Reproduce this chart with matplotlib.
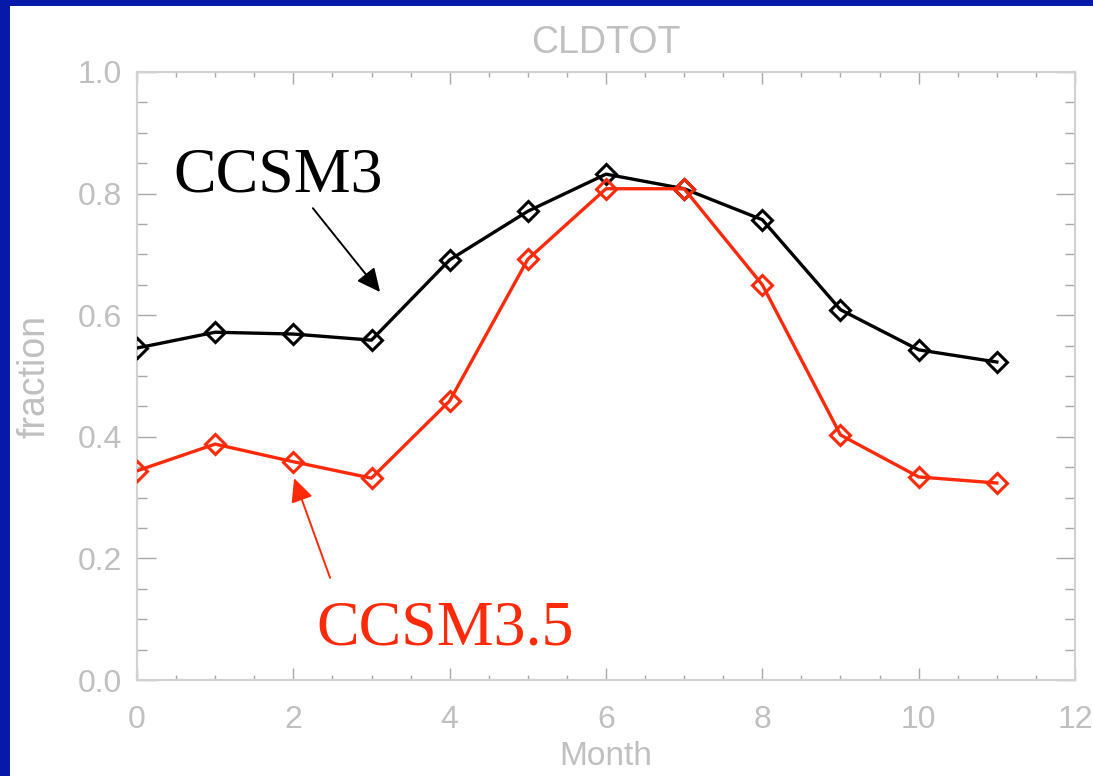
import matplotlib
matplotlib.use("Agg")
import matplotlib.pyplot as plt
from matplotlib.patches import Rectangle
from matplotlib.ticker import MultipleLocator

# monthly mean total cloud fraction
months = list(range(12))
ccsm3 = [0.546, 0.572, 0.569, 0.559, 0.691, 0.771, 0.832, 0.808, 0.757, 0.609, 0.543, 0.523]
ccsm35 = [0.344, 0.388, 0.359, 0.332, 0.459, 0.692, 0.808, 0.808, 0.650, 0.403, 0.334, 0.324]

title = "CLDTOT"
xlab = "Month"
ylab = "fraction"

W, H = 1093, 776
blue = "#0719a8"
red = "#ff2a0a"
grey = "#c0c0c0"

fig = plt.figure(figsize=(W / 100, H / 100), dpi=100, facecolor="white")
# slide frame in the top-left corner
fig.add_artist(Rectangle((0, 0), 10 / W, 1, transform=fig.transFigure, color=blue, lw=0))
fig.add_artist(Rectangle((0, 1 - 6 / H), 1, 6 / H, transform=fig.transFigure, color=blue, lw=0))

ax = fig.add_axes([137 / W, 96 / H, (1075 - 137) / W, (680 - 72) / H])

ax.plot(months, ccsm3, color="black", lw=2.4, marker="D", ms=10, mfc="none",
        mec="black", mew=2.2, zorder=3)
ax.plot(months, ccsm35, color=red, lw=2.4, marker="D", ms=10, mfc="none",
        mec=red, mew=2.2, zorder=3)

ax.set_xlim(0, 12)
ax.set_ylim(0, 1)
ax.xaxis.set_major_locator(MultipleLocator(2))
ax.xaxis.set_minor_locator(MultipleLocator(0.5))
ax.yaxis.set_major_locator(MultipleLocator(0.2))
ax.yaxis.set_minor_locator(MultipleLocator(0.05))
ax.xaxis.set_major_formatter(matplotlib.ticker.FormatStrFormatter("%d"))
ax.yaxis.set_major_formatter(matplotlib.ticker.FormatStrFormatter("%.1f"))

for s in ax.spines.values():
    s.set_color("#d2d2d2")
    s.set_linewidth(1.6)

ax.tick_params(axis="both", which="both", direction="in", top=True, right=True,
               color="#a8a8a8", width=1.0, labelcolor=grey, labelsize=23)
ax.tick_params(axis="y", which="major", length=13.5, pad=11)
ax.tick_params(axis="y", which="minor", length=7)
ax.tick_params(axis="x", which="major", length=8.5, pad=18)
ax.tick_params(axis="x", which="minor", length=3.6)
for lbl in ax.get_xticklabels() + ax.get_yticklabels():
    lbl.set_family("Liberation Sans")

ax.set_title(title, fontsize=27, color=grey, family="Liberation Sans", pad=14)
ax.set_xlabel(xlab, fontsize=24, color=grey, family="Liberation Sans", labelpad=4)
ax.set_ylabel(ylab, fontsize=27, color=grey, family="Liberation Sans", labelpad=18)

# model labels with pointers
ax.text(0.46, 0.803, "CCSM3", fontsize=46, family="Liberation Serif",
        color="black", ha="left", va="baseline")
ax.annotate("", xy=(3.11, 0.638), xytext=(2.25, 0.776),
            arrowprops=dict(arrowstyle="-|>,head_length=0.42,head_width=0.2",
                            color="black", lw=1.4, mutation_scale=34,
                            shrinkA=0, shrinkB=0))
ax.text(2.30, 0.058, "CCSM3.5", fontsize=46, family="Liberation Serif",
        color=red, ha="left", va="baseline")
ax.annotate("", xy=(2.01, 0.332), xytext=(2.47, 0.168),
            arrowprops=dict(arrowstyle="-|>,head_length=0.42,head_width=0.2",
                            color=red, lw=1.4, mutation_scale=34,
                            shrinkA=0, shrinkB=0))

fig.savefig("out.png", dpi=100, facecolor="white")
